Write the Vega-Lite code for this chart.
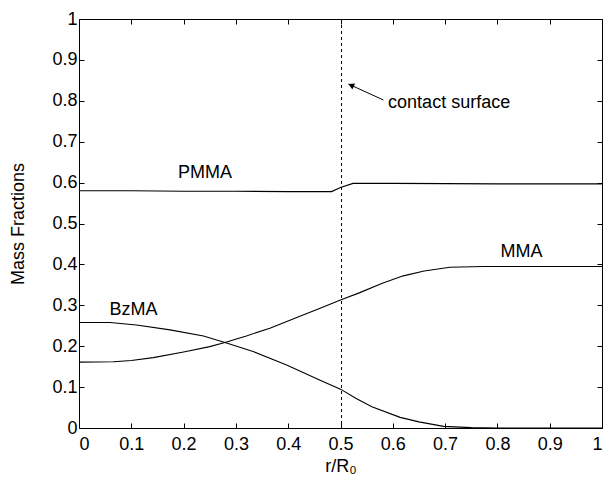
{
  "$schema": "https://vega.github.io/schema/vega-lite/v6.json",
  "width": 523,
  "height": 409,
  "autosize": "none",
  "padding": {"left": 79, "top": 19, "right": 6, "bottom": 50},
  "background": "white",
  "config": {
    "view": {"stroke": null},
    "font": "Liberation Sans",
    "axis": {
      "grid": false,
      "domainColor": "black",
      "domainWidth": 1,
      "tickColor": "black",
      "tickSize": -5,
      "labelFont": "Liberation Sans",
      "labelFontSize": 18,
      "labelColor": "black",
      "titleFont": "Liberation Sans",
      "titleFontSize": 18,
      "titleFontWeight": "normal",
      "titleColor": "black"
    }
  },
  "datasets": {
    "curves": [
      {"s": "PMMA", "x": 0, "y": 0.58},
      {"s": "PMMA", "x": 0.1, "y": 0.58},
      {"s": "PMMA", "x": 0.2, "y": 0.579},
      {"s": "PMMA", "x": 0.3, "y": 0.579},
      {"s": "PMMA", "x": 0.4, "y": 0.578},
      {"s": "PMMA", "x": 0.483, "y": 0.578},
      {"s": "PMMA", "x": 0.5, "y": 0.588},
      {"s": "PMMA", "x": 0.524, "y": 0.598},
      {"s": "PMMA", "x": 0.6, "y": 0.598},
      {"s": "PMMA", "x": 0.8, "y": 0.597},
      {"s": "PMMA", "x": 1, "y": 0.597},
      {"s": "MMA", "x": 0, "y": 0.161},
      {"s": "MMA", "x": 0.066, "y": 0.162},
      {"s": "MMA", "x": 0.1, "y": 0.165},
      {"s": "MMA", "x": 0.142, "y": 0.172},
      {"s": "MMA", "x": 0.2, "y": 0.186},
      {"s": "MMA", "x": 0.25, "y": 0.199},
      {"s": "MMA", "x": 0.279, "y": 0.209},
      {"s": "MMA", "x": 0.32, "y": 0.225},
      {"s": "MMA", "x": 0.365, "y": 0.244},
      {"s": "MMA", "x": 0.42, "y": 0.272},
      {"s": "MMA", "x": 0.461, "y": 0.293},
      {"s": "MMA", "x": 0.5, "y": 0.313},
      {"s": "MMA", "x": 0.537, "y": 0.331},
      {"s": "MMA", "x": 0.58, "y": 0.354},
      {"s": "MMA", "x": 0.62, "y": 0.372},
      {"s": "MMA", "x": 0.66, "y": 0.384},
      {"s": "MMA", "x": 0.709, "y": 0.393},
      {"s": "MMA", "x": 0.773, "y": 0.395},
      {"s": "MMA", "x": 1, "y": 0.395},
      {"s": "BzMA", "x": 0, "y": 0.258},
      {"s": "BzMA", "x": 0.059, "y": 0.258},
      {"s": "BzMA", "x": 0.11, "y": 0.252},
      {"s": "BzMA", "x": 0.174, "y": 0.24},
      {"s": "BzMA", "x": 0.238, "y": 0.225},
      {"s": "BzMA", "x": 0.279, "y": 0.209},
      {"s": "BzMA", "x": 0.333, "y": 0.187},
      {"s": "BzMA", "x": 0.397, "y": 0.154},
      {"s": "BzMA", "x": 0.461, "y": 0.117},
      {"s": "BzMA", "x": 0.5, "y": 0.095},
      {"s": "BzMA", "x": 0.53, "y": 0.072},
      {"s": "BzMA", "x": 0.56, "y": 0.052},
      {"s": "BzMA", "x": 0.614, "y": 0.026},
      {"s": "BzMA", "x": 0.65, "y": 0.015},
      {"s": "BzMA", "x": 0.697, "y": 0.004},
      {"s": "BzMA", "x": 0.75, "y": 0.001},
      {"s": "BzMA", "x": 0.8, "y": 0},
      {"s": "BzMA", "x": 1, "y": 0}
    ],
    "labels": [
      {"t": "PMMA", "x": 0.241, "y": 0.623},
      {"t": "BzMA", "x": 0.104, "y": 0.289},
      {"t": "MMA", "x": 0.846, "y": 0.431}
    ]
  },
  "resolve": {"axis": {"x": "independent", "y": "independent"}},
  "layer": [
    {
      "data": {"name": "curves"},
      "mark": {"type": "line", "color": "black", "strokeWidth": 1.1},
      "encoding": {
        "x": {
          "field": "x", "type": "quantitative",
          "scale": {"domain": [0, 1], "nice": false},
          "axis": {"orient": "bottom", "values": [0, 0.1, 0.2, 0.3, 0.4, 0.5, 0.6, 0.7, 0.8, 0.9, 1], "format": "~g", "labelPadding": 12, "title": "r/R₀", "titlePadding": 4}
        },
        "y": {
          "field": "y", "type": "quantitative",
          "scale": {"domain": [0, 1], "nice": false},
          "axis": {"orient": "left", "values": [0, 0.1, 0.2, 0.3, 0.4, 0.5, 0.6, 0.7, 0.8, 0.9, 1], "format": "~g", "labelPadding": 7, "title": "Mass Fractions", "titlePadding": 24}
        },
        "detail": {"field": "s"},
        "order": {"field": "x", "type": "quantitative"}
      }
    },
    {
      "data": {"values": [{"x": 0.502}]},
      "mark": {"type": "rule", "color": "black", "strokeWidth": 1, "strokeDash": [3, 3]},
      "encoding": {
        "x": {"field": "x", "type": "quantitative", "axis": null}
      }
    },
    {
      "data": {"values": [{"x": 0.582, "y": 0.802, "x2": 0.515, "y2": 0.841}]},
      "mark": {"type": "rule", "color": "black", "strokeWidth": 1},
      "encoding": {
        "x": {"field": "x", "type": "quantitative", "axis": null},
        "y": {"field": "y", "type": "quantitative", "axis": null},
        "x2": {"field": "x2"},
        "y2": {"field": "y2"}
      }
    },
    {
      "data": {"values": [{"x": 0.522, "y": 0.837}]},
      "mark": {"type": "point", "shape": "triangle", "filled": true, "color": "black", "size": 45, "angle": 295, "opacity": 1},
      "encoding": {
        "x": {"field": "x", "type": "quantitative", "axis": null},
        "y": {"field": "y", "type": "quantitative", "axis": null}
      }
    },
    {
      "data": {"values": [{"t": "contact surface", "x": 0.591, "y": 0.795}]},
      "mark": {"type": "text", "align": "left", "baseline": "middle", "fontSize": 18, "font": "Liberation Sans", "color": "black"},
      "encoding": {
        "x": {"field": "x", "type": "quantitative", "axis": null},
        "y": {"field": "y", "type": "quantitative", "axis": null},
        "text": {"field": "t"}
      }
    },
    {
      "data": {"name": "labels"},
      "mark": {"type": "text", "align": "center", "baseline": "middle", "fontSize": 18, "font": "Liberation Sans", "color": "black"},
      "encoding": {
        "x": {
          "field": "x", "type": "quantitative",
          "axis": {"orient": "top", "values": [0, 0.1, 0.2, 0.3, 0.4, 0.5, 0.6, 0.7, 0.8, 0.9, 1], "labels": false, "title": null}
        },
        "y": {
          "field": "y", "type": "quantitative",
          "axis": {"orient": "right", "values": [0, 0.1, 0.2, 0.3, 0.4, 0.5, 0.6, 0.7, 0.8, 0.9, 1], "labels": false, "title": null}
        },
        "text": {"field": "t"}
      }
    }
  ]
}
